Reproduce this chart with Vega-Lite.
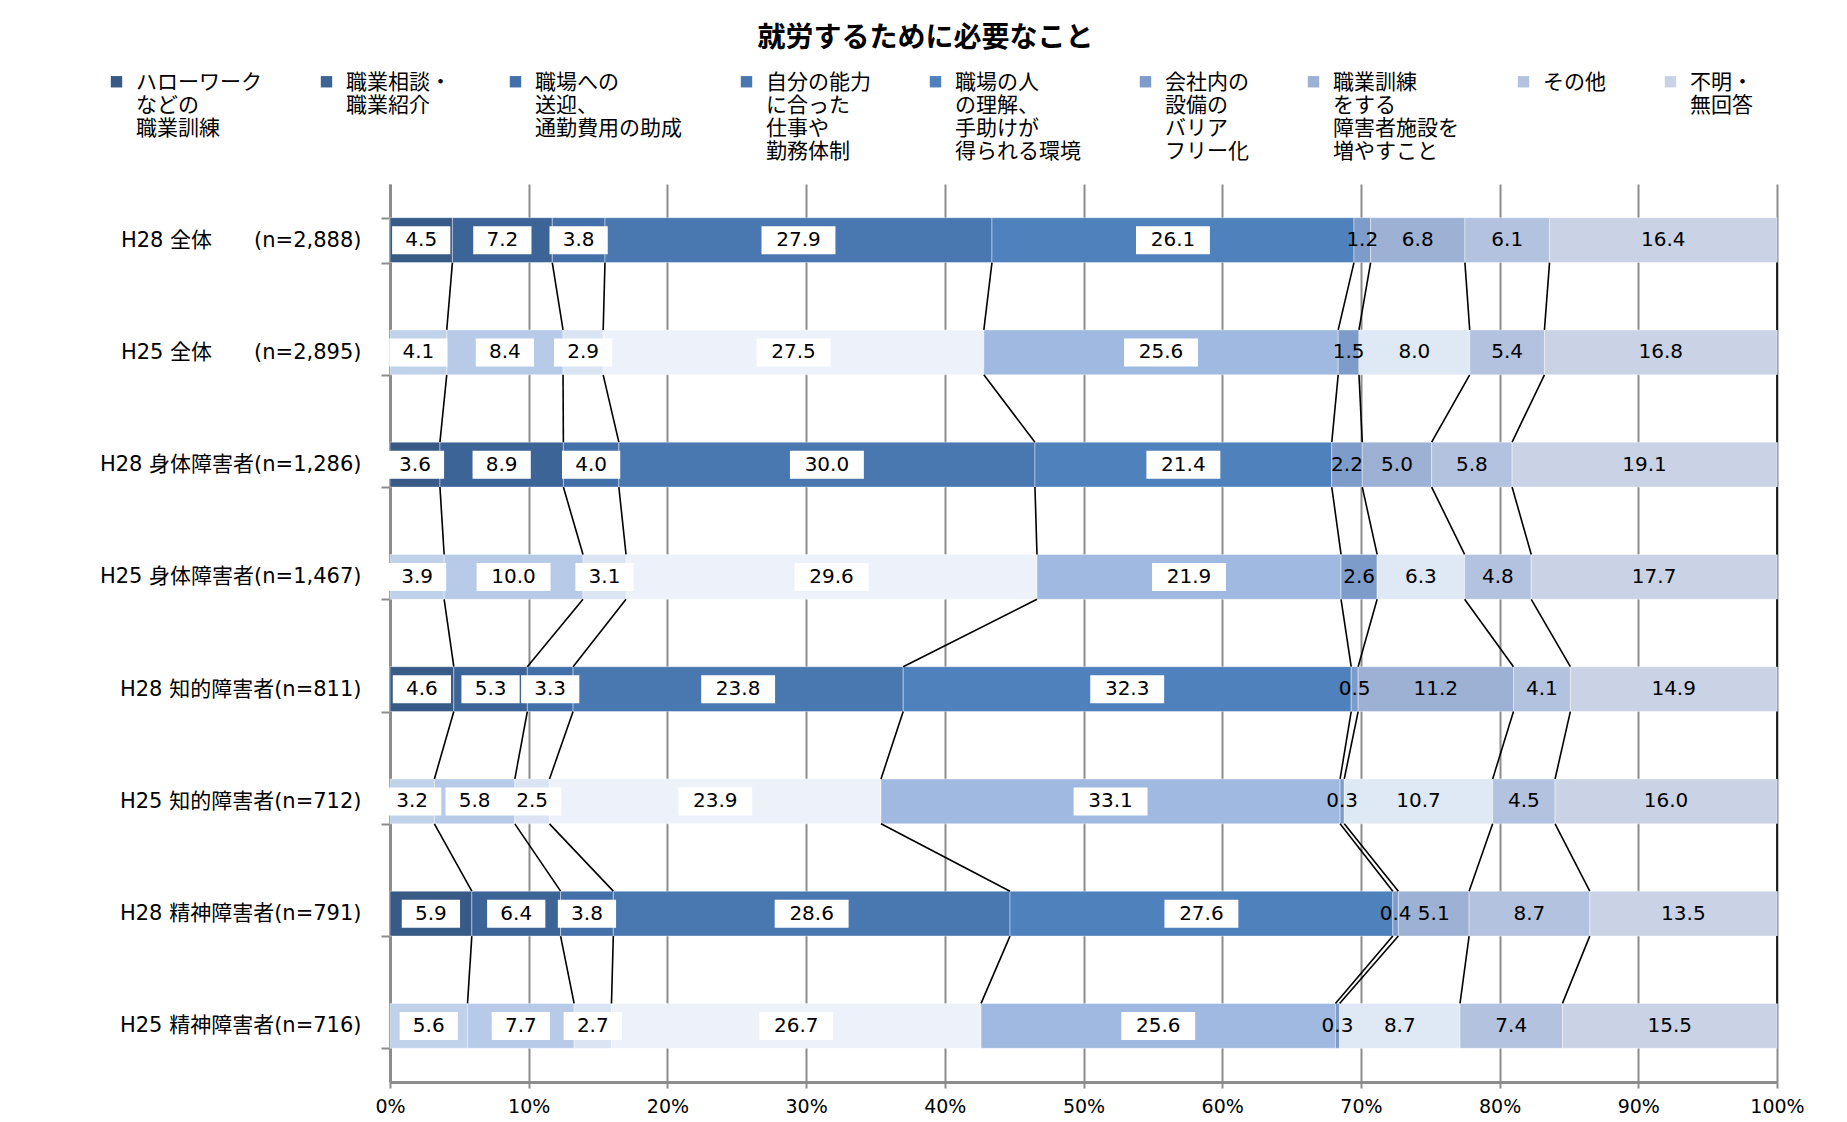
{
  "$schema": "https://vega.github.io/schema/vega-lite/v6.json",
  "width": 1387,
  "height": 898,
  "autosize": {"type": "none"},
  "padding": {"left": 390, "top": 184, "right": 70, "bottom": 40},
  "background": "white",
  "title": {
    "text": "就労するために必要なこと",
    "font": "Noto Sans CJK JP",
    "fontSize": 28,
    "fontWeight": "bold",
    "color": "black",
    "anchor": "middle",
    "frame": "group",
    "dx": -158,
    "offset": -4
  },
  "datasets": {
    "cats": [
      {"k": 1, "cat": "ハローワーク\nなどの\n職業訓練"},
      {"k": 2, "cat": "職業相談・\n職業紹介"},
      {"k": 3, "cat": "職場への\n送迎、\n通勤費用の助成"},
      {"k": 4, "cat": "自分の能力\nに合った\n仕事や\n勤務体制"},
      {"k": 5, "cat": "職場の人\nの理解、\n手助けが\n得られる環境"},
      {"k": 6, "cat": "会社内の\n設備の\nバリア\nフリー化"},
      {"k": 7, "cat": "職業訓練\nをする\n障害者施設を\n増やすこと"},
      {"k": 8, "cat": "その他"},
      {"k": 9, "cat": "不明・\n無回答"}
    ]
  },
  "data": {
    "values": [
      {"gi": 0, "g": "H28 全体　　(n=2,888)", "k": 1, "v": 4.5},
      {"gi": 0, "g": "H28 全体　　(n=2,888)", "k": 2, "v": 7.2},
      {"gi": 0, "g": "H28 全体　　(n=2,888)", "k": 3, "v": 3.8},
      {"gi": 0, "g": "H28 全体　　(n=2,888)", "k": 4, "v": 27.9},
      {"gi": 0, "g": "H28 全体　　(n=2,888)", "k": 5, "v": 26.1},
      {"gi": 0, "g": "H28 全体　　(n=2,888)", "k": 6, "v": 1.2},
      {"gi": 0, "g": "H28 全体　　(n=2,888)", "k": 7, "v": 6.8},
      {"gi": 0, "g": "H28 全体　　(n=2,888)", "k": 8, "v": 6.1},
      {"gi": 0, "g": "H28 全体　　(n=2,888)", "k": 9, "v": 16.4},
      {"gi": 1, "g": "H25 全体　　(n=2,895)", "k": 1, "v": 4.1},
      {"gi": 1, "g": "H25 全体　　(n=2,895)", "k": 2, "v": 8.4},
      {"gi": 1, "g": "H25 全体　　(n=2,895)", "k": 3, "v": 2.9},
      {"gi": 1, "g": "H25 全体　　(n=2,895)", "k": 4, "v": 27.5},
      {"gi": 1, "g": "H25 全体　　(n=2,895)", "k": 5, "v": 25.6},
      {"gi": 1, "g": "H25 全体　　(n=2,895)", "k": 6, "v": 1.5},
      {"gi": 1, "g": "H25 全体　　(n=2,895)", "k": 7, "v": 8.0},
      {"gi": 1, "g": "H25 全体　　(n=2,895)", "k": 8, "v": 5.4},
      {"gi": 1, "g": "H25 全体　　(n=2,895)", "k": 9, "v": 16.8},
      {"gi": 2, "g": "H28 身体障害者(n=1,286)", "k": 1, "v": 3.6},
      {"gi": 2, "g": "H28 身体障害者(n=1,286)", "k": 2, "v": 8.9},
      {"gi": 2, "g": "H28 身体障害者(n=1,286)", "k": 3, "v": 4.0},
      {"gi": 2, "g": "H28 身体障害者(n=1,286)", "k": 4, "v": 30.0},
      {"gi": 2, "g": "H28 身体障害者(n=1,286)", "k": 5, "v": 21.4},
      {"gi": 2, "g": "H28 身体障害者(n=1,286)", "k": 6, "v": 2.2},
      {"gi": 2, "g": "H28 身体障害者(n=1,286)", "k": 7, "v": 5.0},
      {"gi": 2, "g": "H28 身体障害者(n=1,286)", "k": 8, "v": 5.8},
      {"gi": 2, "g": "H28 身体障害者(n=1,286)", "k": 9, "v": 19.1},
      {"gi": 3, "g": "H25 身体障害者(n=1,467)", "k": 1, "v": 3.9},
      {"gi": 3, "g": "H25 身体障害者(n=1,467)", "k": 2, "v": 10.0},
      {"gi": 3, "g": "H25 身体障害者(n=1,467)", "k": 3, "v": 3.1},
      {"gi": 3, "g": "H25 身体障害者(n=1,467)", "k": 4, "v": 29.6},
      {"gi": 3, "g": "H25 身体障害者(n=1,467)", "k": 5, "v": 21.9},
      {"gi": 3, "g": "H25 身体障害者(n=1,467)", "k": 6, "v": 2.6},
      {"gi": 3, "g": "H25 身体障害者(n=1,467)", "k": 7, "v": 6.3},
      {"gi": 3, "g": "H25 身体障害者(n=1,467)", "k": 8, "v": 4.8},
      {"gi": 3, "g": "H25 身体障害者(n=1,467)", "k": 9, "v": 17.7},
      {"gi": 4, "g": "H28 知的障害者(n=811)", "k": 1, "v": 4.6},
      {"gi": 4, "g": "H28 知的障害者(n=811)", "k": 2, "v": 5.3},
      {"gi": 4, "g": "H28 知的障害者(n=811)", "k": 3, "v": 3.3},
      {"gi": 4, "g": "H28 知的障害者(n=811)", "k": 4, "v": 23.8},
      {"gi": 4, "g": "H28 知的障害者(n=811)", "k": 5, "v": 32.3},
      {"gi": 4, "g": "H28 知的障害者(n=811)", "k": 6, "v": 0.5},
      {"gi": 4, "g": "H28 知的障害者(n=811)", "k": 7, "v": 11.2},
      {"gi": 4, "g": "H28 知的障害者(n=811)", "k": 8, "v": 4.1},
      {"gi": 4, "g": "H28 知的障害者(n=811)", "k": 9, "v": 14.9},
      {"gi": 5, "g": "H25 知的障害者(n=712)", "k": 1, "v": 3.2},
      {"gi": 5, "g": "H25 知的障害者(n=712)", "k": 2, "v": 5.8},
      {"gi": 5, "g": "H25 知的障害者(n=712)", "k": 3, "v": 2.5},
      {"gi": 5, "g": "H25 知的障害者(n=712)", "k": 4, "v": 23.9},
      {"gi": 5, "g": "H25 知的障害者(n=712)", "k": 5, "v": 33.1},
      {"gi": 5, "g": "H25 知的障害者(n=712)", "k": 6, "v": 0.3},
      {"gi": 5, "g": "H25 知的障害者(n=712)", "k": 7, "v": 10.7},
      {"gi": 5, "g": "H25 知的障害者(n=712)", "k": 8, "v": 4.5},
      {"gi": 5, "g": "H25 知的障害者(n=712)", "k": 9, "v": 16.0},
      {"gi": 6, "g": "H28 精神障害者(n=791)", "k": 1, "v": 5.9},
      {"gi": 6, "g": "H28 精神障害者(n=791)", "k": 2, "v": 6.4},
      {"gi": 6, "g": "H28 精神障害者(n=791)", "k": 3, "v": 3.8},
      {"gi": 6, "g": "H28 精神障害者(n=791)", "k": 4, "v": 28.6},
      {"gi": 6, "g": "H28 精神障害者(n=791)", "k": 5, "v": 27.6},
      {"gi": 6, "g": "H28 精神障害者(n=791)", "k": 6, "v": 0.4},
      {"gi": 6, "g": "H28 精神障害者(n=791)", "k": 7, "v": 5.1},
      {"gi": 6, "g": "H28 精神障害者(n=791)", "k": 8, "v": 8.7},
      {"gi": 6, "g": "H28 精神障害者(n=791)", "k": 9, "v": 13.5},
      {"gi": 7, "g": "H25 精神障害者(n=716)", "k": 1, "v": 5.6},
      {"gi": 7, "g": "H25 精神障害者(n=716)", "k": 2, "v": 7.7},
      {"gi": 7, "g": "H25 精神障害者(n=716)", "k": 3, "v": 2.7},
      {"gi": 7, "g": "H25 精神障害者(n=716)", "k": 4, "v": 26.7},
      {"gi": 7, "g": "H25 精神障害者(n=716)", "k": 5, "v": 25.6},
      {"gi": 7, "g": "H25 精神障害者(n=716)", "k": 6, "v": 0.3},
      {"gi": 7, "g": "H25 精神障害者(n=716)", "k": 7, "v": 8.7},
      {"gi": 7, "g": "H25 精神障害者(n=716)", "k": 8, "v": 7.4},
      {"gi": 7, "g": "H25 精神障害者(n=716)", "k": 9, "v": 15.5}
    ]
  },
  "transform": [
    {"lookup": "k", "from": {"data": {"name": "cats"}, "key": "k", "fields": ["cat"]}},
    {"stack": "v", "groupby": ["g"], "sort": [{"field": "k", "order": "ascending"}], "offset": "normalize", "as": ["x0", "x1"]},
    {"calculate": "(datum.x0 + datum.x1) / 2", "as": "mid"},
    {"window": [{"op": "lead", "field": "x1", "as": "nx1"}, {"op": "lead", "field": "g", "as": "ng"}], "groupby": ["k"], "sort": [{"field": "gi", "order": "ascending"}]}
  ],
  "layer": [
    {
      "transform": [{"filter": "indexof(datum.g, 'H28') == 0"}],
      "mark": {"type": "bar", "stroke": "#ffffff", "strokeWidth": 1, "strokeOpacity": 0.4},
      "encoding": {
        "y": {
          "field": "g", "type": "nominal", "title": null,
          "scale": {
            "domain": ["H28 全体　　(n=2,888)", "H25 全体　　(n=2,895)", "H28 身体障害者(n=1,286)", "H25 身体障害者(n=1,467)", "H28 知的障害者(n=811)", "H25 知的障害者(n=712)", "H28 精神障害者(n=791)", "H25 精神障害者(n=716)"],
            "paddingInner": 0.6, "paddingOuter": 0.3
          },
          "axis": {
            "domainColor": "#8c8c8c", "domainWidth": 3,
            "tickColor": "#8c8c8c", "tickWidth": 2, "tickSize": 9, "tickBand": "extent",
            "labelFont": "DejaVu Sans, Noto Sans CJK JP", "labelFontSize": 21, "labelColor": "black",
            "labelPadding": 20, "labelLimit": 0, "grid": false
          }
        },
        "x": {
          "field": "x0", "type": "quantitative", "title": null,
          "scale": {"domain": [0, 1], "nice": false},
          "axis": {
            "format": ".0%", "values": [0, 0.1, 0.2, 0.3, 0.4, 0.5, 0.6, 0.7, 0.8, 0.9, 1],
            "grid": true, "gridColor": "#8c8c8c", "gridWidth": 2,
            "domainColor": "#8c8c8c", "domainWidth": 3,
            "tickColor": "#8c8c8c", "tickWidth": 2, "tickSize": 6,
            "labelFont": "DejaVu Sans", "labelFontSize": 19, "labelColor": "black",
            "labelPadding": 9, "labelFlush": false, "labelOverlap": false
          }
        },
        "x2": {"field": "x1"},
        "color": {
          "field": "cat", "type": "nominal",
          "scale": {
            "domain": ["ハローワーク\nなどの\n職業訓練", "職業相談・\n職業紹介", "職場への\n送迎、\n通勤費用の助成", "自分の能力\nに合った\n仕事や\n勤務体制", "職場の人\nの理解、\n手助けが\n得られる環境", "会社内の\n設備の\nバリア\nフリー化", "職業訓練\nをする\n障害者施設を\n増やすこと", "その他", "不明・\n無回答"],
            "range": ["#375A86", "#3C6496", "#4470A9", "#4978B0", "#4F81BD", "#7E9CC9", "#9CB1D4", "#B3C2DE", "#CAD3E6"]
          },
          "legend": {
            "title": null, "orient": "none", "legendX": -284, "legendY": -135,
            "direction": "horizontal", "columns": 9, "columnPadding": 54,
            "symbolType": "M-1,2.86H1V4.86H-1Z", "symbolSize": 130, "symbolStrokeWidth": 0,
            "labelFont": "Noto Sans CJK JP", "labelFontSize": 21, "labelColor": "black",
            "labelBaseline": "middle", "labelOffset": 9, "labelLimit": 0,
            "labelExpr": "slice(split(' \\n \\n' + datum.label + '\\n \\n \\n \\n \\n ', '\\n'), 0, 7)"
          }
        }
      }
    },
    {
      "transform": [{"filter": "indexof(datum.g, 'H25') == 0"}],
      "mark": {"type": "bar", "stroke": "#ffffff", "strokeWidth": 1, "strokeOpacity": 0.4},
      "encoding": {
        "y": {"field": "g", "type": "nominal"},
        "x": {"field": "x0", "type": "quantitative"},
        "x2": {"field": "x1"},
        "fill": {
          "field": "cat", "type": "nominal", "legend": null,
          "scale": {
            "domain": ["ハローワーク\nなどの\n職業訓練", "職業相談・\n職業紹介", "職場への\n送迎、\n通勤費用の助成", "自分の能力\nに合った\n仕事や\n勤務体制", "職場の人\nの理解、\n手助けが\n得られる環境", "会社内の\n設備の\nバリア\nフリー化", "職業訓練\nをする\n障害者施設を\n増やすこと", "その他", "不明・\n無回答"],
            "range": ["#C0D1EA", "#B7CAE8", "#DAE4F3", "#EDF2FA", "#A0B9E0", "#7E9CC9", "#DFE8F5", "#B3C2DE", "#CAD3E6"]
          }
        }
      }
    },
    {
      "transform": [{"filter": "datum.ng != null"}],
      "mark": {"type": "rule", "color": "black", "strokeWidth": 1.6},
      "encoding": {
        "x": {"field": "x1", "type": "quantitative"},
        "x2": {"field": "nx1"},
        "y": {"field": "g", "type": "nominal", "bandPosition": 1},
        "y2": {"field": "ng", "bandPosition": 0}
      }
    },
    {
      "transform": [{"filter": "datum.k <= 5"}],
      "mark": {"type": "point", "filled": true, "color": "white", "opacity": 1, "strokeWidth": 0, "size": 3136},
      "encoding": {
        "x": {"field": "mid", "type": "quantitative"},
        "y": {"field": "g", "type": "nominal"},
        "shape": {
          "condition": {"test": "datum.v >= 10", "value": "M-1.32,-0.5H1.32V0.5H-1.32Z"},
          "value": "M-1.04,-0.5H1.04V0.5H-1.04Z"
        }
      }
    },
    {
      "mark": {"type": "text", "font": "DejaVu Sans", "fontSize": 20, "color": "black"},
      "encoding": {
        "x": {"field": "mid", "type": "quantitative"},
        "y": {"field": "g", "type": "nominal"},
        "text": {"field": "v", "type": "quantitative", "format": ".1f"}
      }
    }
  ],
  "config": {
    "view": {"stroke": null},
    "font": "Noto Sans CJK JP"
  }
}
